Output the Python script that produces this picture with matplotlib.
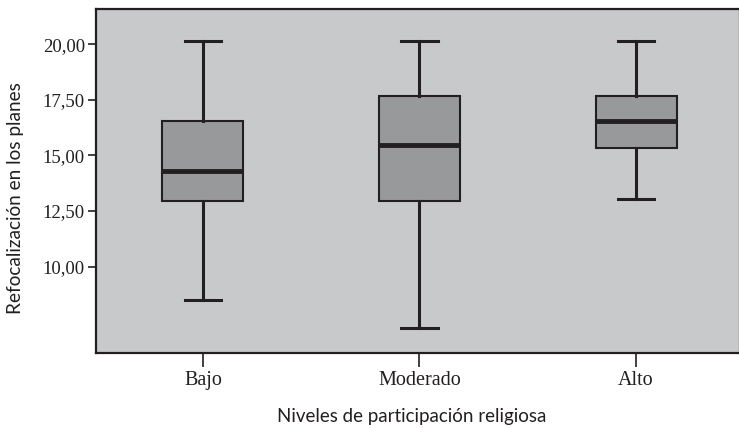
import matplotlib
matplotlib.use("Agg")
import matplotlib.pyplot as plt

# datos
niveles = ["Bajo", "Moderado", "Alto"]
minimo = [8.51, 7.25, 13.06]
q1 = [12.97, 12.97, 15.32]
mediana = [14.28, 15.45, 16.53]
q3 = [16.53, 17.66, 17.66]
maximo = [20.15, 20.15, 20.15]

ticks_y = [10, 12.5, 15, 17.5, 20]

fondo = "#c8c9cb"
caja = "#98999b"
linea = "#231f20"

fig = plt.figure(figsize=(7.39, 4.28), dpi=100)
ax = fig.add_axes([0.1299, 0.1764, 0.8714, 0.8019])
ax.set_facecolor(fondo)

stats = []
for i in range(len(niveles)):
    stats.append({"label": niveles[i], "whislo": minimo[i], "q1": q1[i],
                  "med": mediana[i], "q3": q3[i], "whishi": maximo[i]})

ax.bxp(stats, positions=[1, 2, 3], widths=0.374, showfliers=False,
       patch_artist=True,
       boxprops=dict(facecolor=caja, edgecolor=linea, linewidth=1.5),
       medianprops=dict(color=linea, linewidth=3.5, solid_capstyle="butt"),
       whiskerprops=dict(color=linea, linewidth=2.2),
       capprops=dict(color=linea, linewidth=2.2),
       capwidths=0.17)

ax.set_xlim(0.506, 3.48)
ax.set_ylim(6.13, 21.58)
ax.set_yticks(ticks_y)
ax.set_yticklabels([f"{v:.2f}".replace(".", ",") for v in ticks_y],
                   family="Liberation Serif", fontsize=13.5, color=linea)
ax.set_xticks([1, 2, 3])
ax.set_xticklabels(niveles, family="Liberation Serif", fontsize=14.5, color=linea)
ax.tick_params(axis="y", length=6, width=1.2, color=linea, pad=2)
ax.tick_params(axis="x", length=10, width=1.2, color=linea, pad=3)

for s in ax.spines.values():
    s.set_color(linea)
    s.set_linewidth(1.6)

ax.set_xlabel("Niveles de participación religiosa", family="Lato",
              fontsize=13.5, color=linea)
ax.set_ylabel("Refocalización en los planes", family="Lato",
              fontsize=13.7, color=linea)
ax.xaxis.set_label_coords(0.49, -0.162)
ax.yaxis.set_label_coords(-0.112, 0.449)

fig.savefig("out.png", dpi=100)
